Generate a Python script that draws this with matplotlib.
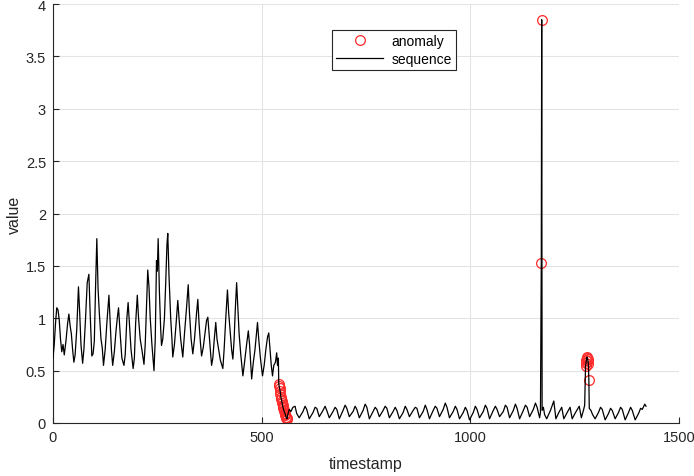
import matplotlib
matplotlib.use("Agg")
import matplotlib.pyplot as plt
import numpy as np
from matplotlib.ticker import FuncFormatter

plt.rcParams["font.family"] = ["Liberation Sans", "DejaVu Sans"]

# hourly readings, busy period before the drop
busy_t = [0, 3, 6, 9, 12, 15, 18, 21, 24, 27, 31, 35, 38, 41, 44, 47, 50, 53, 57, 61,
          64, 67, 71, 74, 78, 82, 86, 89, 93, 96, 99, 102, 105, 108, 111, 115, 118, 121, 125, 129,
          134, 137, 140, 143, 147, 151, 154, 157, 161, 165, 170, 173, 177, 180, 183, 187, 192, 195, 198, 202,
          205, 209, 213, 218, 221, 224, 227, 230, 233, 237, 242, 245, 248, 250, 252, 255, 258, 260, 263, 267,
          270, 273, 275, 278, 282, 285, 287, 291, 295, 299, 302, 306, 311, 315, 320, 324, 327, 331, 335, 339,
          344, 347, 350, 353, 356, 360, 364, 368, 371, 374, 377, 380, 383, 386, 390, 393, 397, 401, 407, 410,
          414, 418, 421, 425, 428, 431, 434, 437, 440, 443, 446, 450, 455, 459, 463, 468, 471, 474, 476, 480,
          484, 490, 493, 497, 502, 506, 510, 514, 517, 520, 523, 526, 529, 533, 536, 538, 540]
busy_v = [0.62, 0.75, 0.95, 1.10, 1.08, 0.98, 0.80, 0.68, 0.75, 0.65, 0.78, 0.95, 1.04, 0.93, 0.85, 0.70, 0.58, 0.65, 0.90, 1.30,
          1.05, 0.75, 0.57, 0.70, 1.00, 1.34, 1.42, 1.05, 0.64, 0.66, 0.78, 1.30, 1.76, 1.28, 1.05, 0.80, 0.72, 0.55, 0.70, 0.95,
          1.22, 0.95, 0.70, 0.55, 0.68, 0.88, 1.00, 1.10, 0.85, 0.62, 0.55, 0.65, 1.00, 1.15, 0.95, 0.70, 0.52, 0.62, 0.95, 1.22,
          1.00, 0.80, 0.70, 0.56, 0.75, 1.10, 1.46, 1.30, 1.00, 0.75, 0.50, 0.80, 1.55, 1.45, 1.76, 1.25, 0.90, 0.74, 0.80, 1.00,
          1.33, 1.70, 1.81, 1.40, 1.00, 0.80, 0.63, 0.75, 0.95, 1.17, 1.00, 0.80, 0.63, 0.85, 1.10, 1.32, 1.05, 0.80, 0.66, 0.80,
          1.05, 1.18, 0.95, 0.78, 0.64, 0.72, 0.85, 0.98, 1.01, 0.85, 0.70, 0.55, 0.62, 0.78, 0.96, 0.80, 0.70, 0.60, 0.52, 0.70,
          1.00, 1.27, 1.05, 0.85, 0.70, 0.61, 0.80, 1.10, 1.34, 1.10, 0.85, 0.65, 0.45, 0.58, 0.72, 0.88, 0.75, 0.55, 0.42, 0.58,
          0.70, 0.96, 0.80, 0.62, 0.45, 0.55, 0.70, 0.82, 0.86, 0.70, 0.55, 0.45, 0.55, 0.58, 0.67, 0.55, 0.62]

# sharp drop
drop_t = [541, 542, 543, 544, 545, 546, 547, 548, 549, 550, 551, 552, 553, 554, 555, 556, 557, 558, 559, 560, 561]
drop_v = [0.37, 0.35, 0.33, 0.31, 0.28, 0.25, 0.23, 0.21, 0.19, 0.17, 0.15, 0.14, 0.12, 0.11, 0.10, 0.09, 0.08, 0.06, 0.05, 0.05, 0.04]

# quiet period up to the spike
quiet_t = [562, 566, 570, 575, 580, 584,
           590, 599, 604, 608, 614, 623, 628, 632, 638, 647, 652, 656, 662, 671, 676, 680,
           686, 695, 700, 704, 710, 719, 724, 728, 734, 743, 748, 752, 758, 767, 772, 776,
           782, 791, 796, 800, 806, 815, 820, 824, 830, 839, 844, 848, 854, 863, 868, 872,
           878, 887, 892, 896, 902, 911, 916, 920, 926, 935, 940, 944, 950, 959, 964, 968,
           974, 983, 988, 992, 998, 1007, 1012, 1016, 1022, 1031, 1036, 1040, 1046, 1055, 1060, 1064,
           1070, 1079, 1084, 1088, 1094, 1103, 1108, 1112, 1118, 1127, 1132, 1136, 1142, 1151, 1156, 1160,
           1166, 1168]
quiet_v = [0.07, 0.13, 0.11, 0.15, 0.16, 0.09,
           0.05, 0.11, 0.16, 0.13, 0.04, 0.10, 0.15, 0.14, 0.06, 0.12, 0.16, 0.12, 0.05, 0.11, 0.15, 0.13,
           0.04, 0.12, 0.17, 0.14, 0.06, 0.11, 0.16, 0.13, 0.05, 0.12, 0.18, 0.15, 0.04, 0.11, 0.15, 0.13,
           0.06, 0.12, 0.16, 0.14, 0.05, 0.11, 0.15, 0.12, 0.04, 0.10, 0.16, 0.13, 0.06, 0.12, 0.15, 0.14,
           0.05, 0.11, 0.17, 0.13, 0.04, 0.12, 0.16, 0.14, 0.06, 0.13, 0.19, 0.15, 0.05, 0.11, 0.16, 0.13,
           0.04, 0.10, 0.15, 0.12, 0.03, 0.10, 0.16, 0.13, 0.05, 0.11, 0.17, 0.14, 0.04, 0.12, 0.16, 0.13,
           0.06, 0.11, 0.17, 0.15, 0.05, 0.12, 0.18, 0.14, 0.04, 0.12, 0.17, 0.15, 0.06, 0.13, 0.19, 0.15,
           0.05, 0.10]

# single-hour spike
spike_t = [1170, 1171]
spike_v = [1.53, 3.85]

# after the spike, up to the short bump
after_t = [1172, 1175, 1178, 1183, 1192, 1200, 1205, 1212, 1219, 1224, 1232, 1239, 1244,
           1252, 1261, 1266, 1271, 1274]
after_v = [0.12, 0.15, 0.08, 0.04, 0.12, 0.21, 0.04, 0.10, 0.15, 0.04, 0.10, 0.15, 0.04,
           0.10, 0.16, 0.05, 0.12, 0.17]

bump_t = [1276, 1277, 1278, 1279, 1280, 1281, 1282, 1283, 1284]
bump_v = [0.54, 0.57, 0.60, 0.63, 0.62, 0.61, 0.59, 0.56, 0.41]

tail_t = [1285, 1289, 1293, 1299, 1307, 1312, 1316, 1323, 1331, 1336, 1340, 1347, 1355, 1360, 1364,
          1371, 1379, 1384, 1388, 1395, 1403, 1408, 1412, 1418, 1421]
tail_v = [0.14, 0.12, 0.08, 0.04, 0.10, 0.15, 0.13, 0.03, 0.09, 0.14, 0.12, 0.04, 0.10, 0.15, 0.13,
          0.03, 0.10, 0.15, 0.12, 0.03, 0.09, 0.14, 0.13, 0.18, 0.16]

anomaly_t = drop_t + spike_t + bump_t


def main():
    t = np.array(busy_t + drop_t + quiet_t + spike_t + after_t + bump_t + tail_t)
    v = np.array(busy_v + drop_v + quiet_v + spike_v + after_v + bump_v + tail_v)
    is_anomaly = np.isin(t, anomaly_t)

    fig = plt.figure(figsize=(6.94, 4.77), dpi=100)
    ax = fig.add_axes([53 / 694, 53 / 477, 626 / 694, 419 / 477])

    ax.plot(t[is_anomaly], v[is_anomaly], "o", mfc="none", mec="#ff2a2a",
            ms=7, mew=0.9, label="anomaly", zorder=2)
    ax.plot(t, v, "-", color="black", lw=0.9, label="sequence", zorder=3)

    ax.set_xlim(0, 1500)
    ax.set_ylim(0, 4)
    ax.set_xticks([0, 500, 1000, 1500])
    ax.set_yticks(np.arange(0, 4.01, 0.5))
    ax.yaxis.set_major_formatter(FuncFormatter(lambda y, _: f"{y:g}"))

    ax.grid(True, color="#e3e3e3", lw=0.8)
    ax.set_axisbelow(True)
    for side in ("top", "right"):
        ax.spines[side].set_visible(False)
    for side in ("left", "bottom"):
        ax.spines[side].set_color("#262626")
        ax.spines[side].set_linewidth(0.8)
    ax.tick_params(direction="in", length=4, width=0.8, colors="#262626",
                   labelsize=10.5, pad=5)

    ax.set_xlabel("timestamp", fontsize=11.5, color="#262626", labelpad=9)
    ax.set_ylabel("value", fontsize=11.5, color="#262626", labelpad=3)

    leg = ax.legend(loc="upper left", bbox_to_anchor=(0.4457, 0.938),
                    borderaxespad=0, fancybox=False, framealpha=1,
                    edgecolor="#262626", fontsize=10, handlelength=3.4,
                    borderpad=0.3, labelspacing=0.25, handletextpad=0.6)
    leg.get_frame().set_linewidth(0.8)

    fig.savefig("out.png", dpi=100, facecolor="white")


if __name__ == "__main__":
    main()
